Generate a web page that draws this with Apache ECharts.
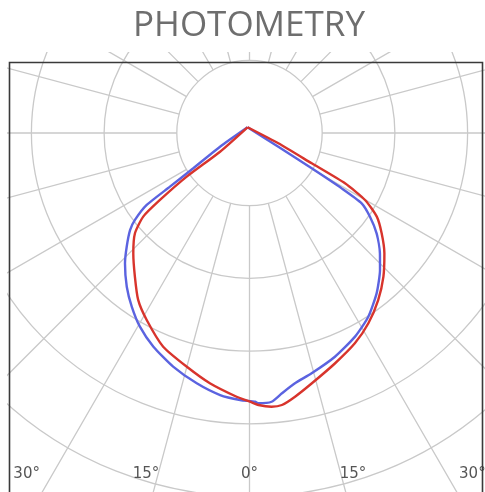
<!DOCTYPE html>
<html><head><meta charset="utf-8">
<script src="https://cdn.jsdelivr.net/npm/echarts@6/dist/echarts.min.js"></script>
<style>html,body{margin:0;padding:0;background:#fff}#c{width:485px;height:492px}</style>
</head><body><div id="c"></div>
<script>
// ---- data (angles in degrees from nadir, + = right; values in grid-ring units) ----
const titleText = 'PHOTOMETRY';
const tickAngles = [-30, -15, 0, 15, 30];
const tickLabels = ['30°', '15°', '0°', '15°', '30°'];

const blueAngles = [-161, -65.1, -57.9, -56.0, -55.0, -52.8, -50.9, -47.2, -43.7, -38.6, -34.1, -29.5, -24.2, -18.1, -11.9, -6.4, -2.0, 1.2, 1.9, 4.7, 7.1, 10.3, 14.5, 20.9, 27.4, 32.9, 38.4, 43.6, 47.3, 51.7, 55.2, 57.9, 59.0, 60.4, 64.6, 199];
const blueValues = [0.083, 0.447, 0.913, 1.320, 1.726, 1.978, 2.117, 2.302, 2.479, 2.706, 2.887, 3.061, 3.224, 3.381, 3.519, 3.627, 3.675, 3.697, 3.720, 3.709, 3.608, 3.499, 3.414, 3.294, 3.155, 3.009, 2.815, 2.603, 2.441, 2.228, 2.018, 1.821, 1.479, 0.984, 0.439, 0.083];

const redAngles = [-161, -57.6, -55.2, -53.2, -51.8, -48.8, -44.0, -38.6, -33.7, -28.8, -22.0, -15.0, -9.0, -2.8, 0.1, 1.9, 4.6, 6.8, 9.8, 14.0, 20.4, 26.6, 32.0, 37.6, 43.0, 48.3, 52.8, 56.7, 59.9, 62.2, 64.0, 70.3, 199];
const redValues = [0.083, 0.480, 1.052, 1.538, 1.860, 2.094, 2.301, 2.527, 2.760, 2.935, 3.170, 3.329, 3.485, 3.632, 3.696, 3.743, 3.777, 3.768, 3.681, 3.548, 3.379, 3.236, 3.086, 2.901, 2.701, 2.485, 2.282, 2.095, 1.837, 1.485, 0.952, 0.421, 0.083];

// ---- layout ----
const CX = 249.5, CY = 133, U = 72.7, RINGS = 7;
const norm = a => ((a % 360) + 360) % 360;
const toData = (angs, vals) => vals.map((v, i) => [v, norm(angs[i])]);
const labelDepth = 386 / U;

const hiddenAxis = { show: true, axisLine: {show:false}, axisTick: {show:false}, axisLabel: {show:false}, splitLine: {show:false} };

const chart = echarts.init(document.getElementById('c'), null, {renderer: 'canvas'});
chart.setOption({
  animation: false,
  backgroundColor: '#ffffff',
  polar: [
    { center: [CX, CY], radius: [U, U * RINGS] },
    { center: [CX, CY], radius: [0, U * RINGS] }
  ],
  angleAxis: [
    { polarIndex: 0, type: 'value', min: 0, max: 360, interval: 15, startAngle: 270, clockwise: false,
      axisLine: {show: false}, axisTick: {show: false}, axisLabel: {show: false},
      splitLine: {show: true, lineStyle: {color: '#c9c9c9', width: 1.3}} },
    Object.assign({ polarIndex: 1, type: 'value', min: 0, max: 360, startAngle: 270, clockwise: false }, hiddenAxis)
  ],
  radiusAxis: [
    { polarIndex: 0, type: 'value', min: 1, max: RINGS, interval: 1,
      axisLine: {show: false}, axisTick: {show: false}, axisLabel: {show: false},
      splitLine: {show: true, lineStyle: {color: '#c9c9c9', width: 1.3}} },
    Object.assign({ polarIndex: 1, type: 'value', min: 0, max: RINGS }, hiddenAxis)
  ],
  series: [
    { type: 'line', coordinateSystem: 'polar', polarIndex: 1, data: toData(blueAngles, blueValues),
      showSymbol: false, smooth: 0.2, lineStyle: {color: '#5b63e0', width: 2.4}, z: 3 },
    { type: 'line', coordinateSystem: 'polar', polarIndex: 1, data: toData(redAngles, redValues),
      showSymbol: false, smooth: 0.2, lineStyle: {color: '#d8342c', width: 2.4}, z: 4 },
    { type: 'scatter', coordinateSystem: 'polar', polarIndex: 1, symbolSize: 0, z: 10,
      data: tickAngles.map(a => [labelDepth / Math.cos(a * Math.PI / 180), norm(a)]),
      label: { show: true, position: 'inside', offset: [0, -45], color: '#2a2a2a', fontSize: 15,
               fontFamily: 'DejaVu Sans', formatter: p => tickLabels[p.dataIndex] } }
  ],
  graphic: [
    { type: 'rect', shape: {x: 0, y: 0, width: 485, height: 52}, style: {fill: '#fff'}, z: 50, silent: true },
    { type: 'rect', shape: {x: 0, y: 0, width: 7, height: 492}, style: {fill: '#fff'}, z: 50, silent: true },
    { type: 'rect', shape: {x: 9.5, y: 62.5, width: 473, height: 440}, style: {fill: 'none', stroke: '#3a3a3a', lineWidth: 1.6}, z: 60, silent: true },
    { type: 'text', x: 249, y: 26, z: 70, silent: true,
      style: { text: titleText, fontSize: 35, fontFamily: 'Open Sans', fill: '#6e6e6e', textAlign: 'center', textVerticalAlign: 'middle' } }
  ]
});
</script>
</body></html>
